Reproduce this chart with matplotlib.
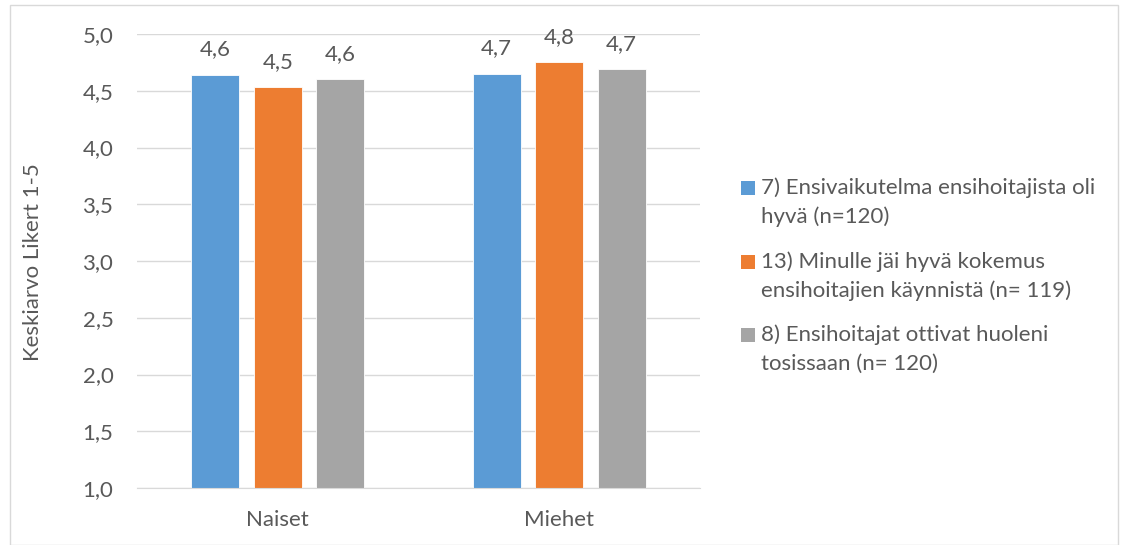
import matplotlib.pyplot as plt
import numpy as np
from matplotlib.patches import Rectangle

# Group means per question, Likert 1-5
groups = ["Naiset", "Miehet"]
series_names = [
    "7) Ensivaikutelma ensihoitajista oli\nhyvä (n=120)",
    "13) Minulle jäi hyvä kokemus\nensihoitajien käynnistä (n= 119)",
    "8) Ensihoitajat ottivat huoleni\ntosissaan (n= 120)",
]
q7_values = [4.64, 4.65]
q13_values = [4.53, 4.75]
q8_values = [4.60, 4.69]
colors = ["#5B9BD5", "#ED7D31", "#A5A5A5"]

plt.rcParams['font.family'] = ['Lato', 'DejaVu Sans']
text_color = "#595959"

W, H = 1121, 545
fig = plt.figure(figsize=(W / 100, H / 100), dpi=100)
ax = fig.add_axes([137 / W, 1 - 488 / H, 563 / W, 454 / H])

x = np.arange(len(groups))
width = 0.172
step = 0.222
for i, vals in enumerate([q7_values, q13_values, q8_values]):
    b = ax.bar(x + (i - 1) * step, np.array(vals) - 1.0, bottom=1.0, width=width,
               color=colors[i], edgecolor="white", linewidth=0.6, zorder=3)
    for rect, v in zip(b, vals):
        ax.annotate(f"{v:.1f}".replace(".", ","),
                    (rect.get_x() + rect.get_width() / 2, v),
                    xytext=(0, 11), textcoords="offset points",
                    ha="center", va="bottom", fontsize=16, color=text_color)

ax.set_xlim(-0.5, 1.5)
ax.set_ylim(1.0, 5.0)
yt = np.arange(1.0, 5.01, 0.5)
ax.set_yticks(yt)
ax.set_yticklabels([f"{t:.1f}".replace(".", ",") for t in yt])
ax.set_xticks(x)
ax.set_xticklabels(groups)
ax.tick_params(axis="both", length=0, labelsize=16, colors=text_color)
ax.tick_params(axis="y", pad=17)
ax.tick_params(axis="x", pad=16)
ax.grid(axis="y", color="#D9D9D9", linewidth=1, zorder=0)
for s in ["top", "right", "left"]:
    ax.spines[s].set_visible(False)
ax.spines["bottom"].set_color("#D9D9D9")
ax.spines["bottom"].set_zorder(4)
fig.text(33 / W, 1 - 262 / H, "Keskiarvo Likert 1-5", rotation=90,
         ha="center", va="center", fontsize=16, color=text_color)

# legend: square marker beside the first line of each wrapped entry
for i, (name, c) in enumerate(zip(series_names, colors)):
    y0 = 188 + i * 73.5
    fig.patches.append(Rectangle((741 / W, 1 - (y0 + 7) / H), 14 / W, 14 / H,
                                 transform=fig.transFigure, facecolor=c,
                                 edgecolor="none"))
    for k, line in enumerate(name.split("\n")):
        fig.text(761 / W, 1 - (y0 + k * 29) / H, line, ha="left", va="center",
                 fontsize=16, color=text_color)

fig.patches.append(Rectangle((10 / W, 0), 1 - 13 / W, 1 - 5 / H,
                             transform=fig.transFigure, fill=False,
                             edgecolor="#D9D9D9", linewidth=1))

fig.savefig("out.png", dpi=100)
